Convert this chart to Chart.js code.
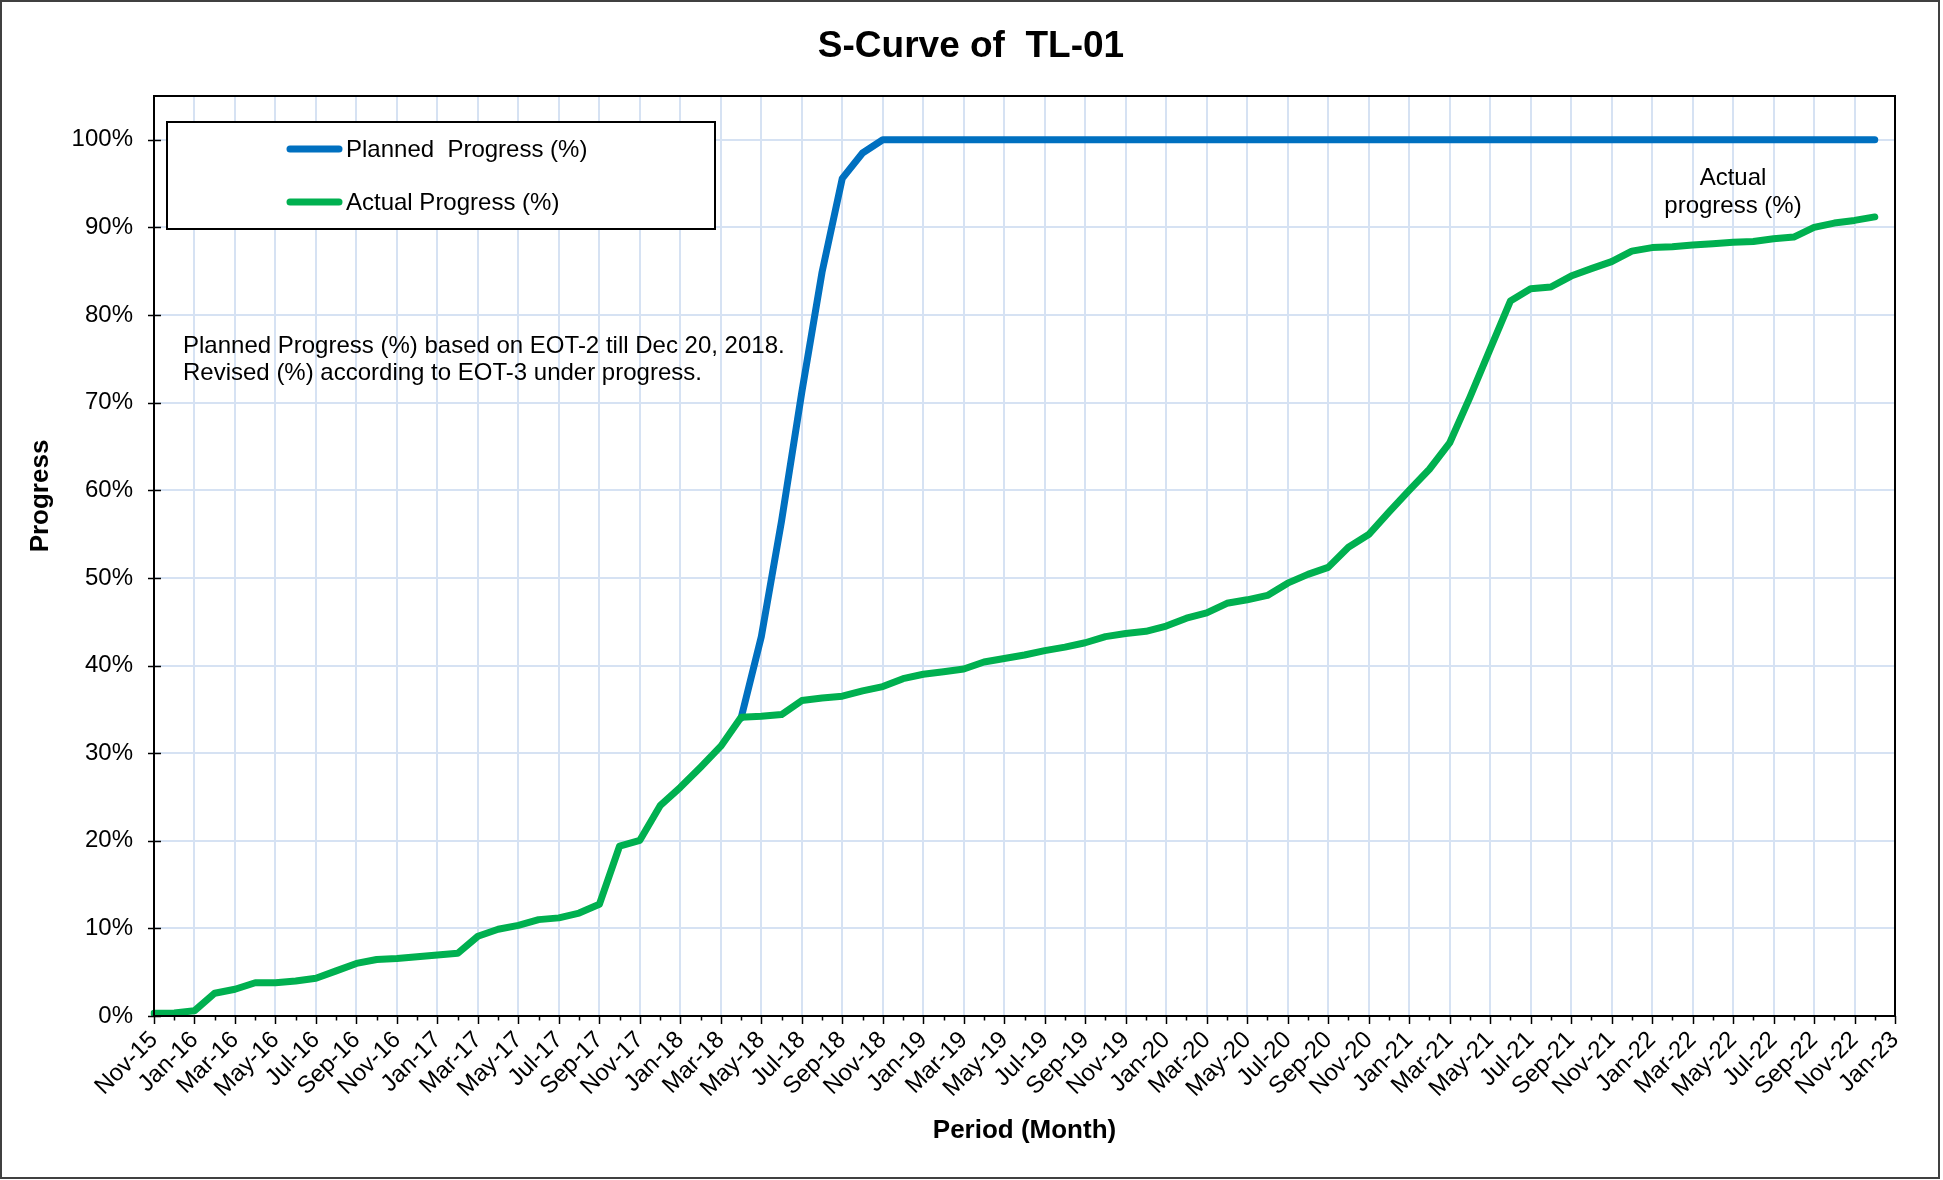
<!DOCTYPE html>
<html>
<head>
<meta charset="utf-8">
<title>S-Curve of TL-01</title>
<script src="https://cdn.jsdelivr.net/npm/chart.js@4.4.1/dist/chart.umd.min.js"></script>
<style>
  html, body { margin: 0; padding: 0; background: #ffffff; }
  canvas { display: block; }
</style>
</head>
<body>
<canvas id="scurve" width="1943" height="1180"></canvas>
<script>
// Monthly periods, Nov-15 through Jan-23
const months = [
  'Nov-15','Dec-15',
  'Jan-16','Feb-16','Mar-16','Apr-16','May-16','Jun-16','Jul-16','Aug-16','Sep-16','Oct-16','Nov-16','Dec-16',
  'Jan-17','Feb-17','Mar-17','Apr-17','May-17','Jun-17','Jul-17','Aug-17','Sep-17','Oct-17','Nov-17','Dec-17',
  'Jan-18','Feb-18','Mar-18','Apr-18','May-18','Jun-18','Jul-18','Aug-18','Sep-18','Oct-18','Nov-18','Dec-18',
  'Jan-19','Feb-19','Mar-19','Apr-19','May-19','Jun-19','Jul-19','Aug-19','Sep-19','Oct-19','Nov-19','Dec-19',
  'Jan-20','Feb-20','Mar-20','Apr-20','May-20','Jun-20','Jul-20','Aug-20','Sep-20','Oct-20','Nov-20','Dec-20',
  'Jan-21','Feb-21','Mar-21','Apr-21','May-21','Jun-21','Jul-21','Aug-21','Sep-21','Oct-21','Nov-21','Dec-21',
  'Jan-22','Feb-22','Mar-22','Apr-22','May-22','Jun-22','Jul-22','Aug-22','Sep-22','Oct-22','Nov-22','Dec-22',
  'Jan-23'
];

// Planned progress (%) per EOT-2; the earlier months run under the actual curve
const plannedProgress = [
  null, null, null, null, null, null, null, null, null, null,
  null, null, null, null, null, null, null, null, null, null,
  null, null, null, null, null, null, null, null, null,
  34.0, 43.3, 56.5, 71.2, 84.9, 95.6, 98.5, 100, 100, 100,
  100, 100, 100, 100, 100, 100, 100, 100, 100, 100,
  100, 100, 100, 100, 100, 100, 100, 100, 100, 100,
  100, 100, 100, 100, 100, 100, 100, 100, 100, 100,
  100, 100, 100, 100, 100, 100, 100, 100, 100, 100,
  100, 100, 100, 100, 100, 100, 100
];

// Actual progress (%) month by month up to Dec-22
const actualProgress = [
  0.3, 0.35, 0.6, 2.6, 3.05, 3.8, 3.8, 4.0, 4.3, 5.15,
  6.0, 6.45, 6.55, 6.75, 6.95, 7.15, 9.1, 9.9, 10.35, 11.0,
  11.2, 11.75, 12.75, 19.4, 20.05, 24.0, 26.1, 28.4, 30.8, 34.1,
  34.2, 34.4, 36.0, 36.3, 36.5, 37.1, 37.6, 38.5, 39.0, 39.3,
  39.6, 40.4, 40.8, 41.2, 41.7, 42.1, 42.6, 43.3, 43.65, 43.9,
  44.5, 45.4, 46.0, 47.1, 47.5, 48.0, 49.4, 50.4, 51.2, 53.5,
  54.95, 57.5, 60.0, 62.4, 65.4, 70.6, 76.1, 81.6, 83.0, 83.2,
  84.45, 85.3, 86.1, 87.3, 87.7, 87.8, 88.0, 88.15, 88.3, 88.4,
  88.7, 88.9, 90.0, 90.5, 90.8, 91.2
];

// Percent ticks on the progress axis
const progressTicks = [0, 10, 20, 30, 40, 50, 60, 70, 80, 90, 100];

const FONT = "'Liberation Sans', Arial, Helvetica, sans-serif";
const GRID = '#d6e2f3';
const BLUE = '#0070c0';
const GREEN = '#00b050';
const LINE_W = 7;

// Title, axis titles, notes, legend box, tick marks and frames
const decorations = {
  id: 'decorations',
  beforeDraw(chart) {
    const c = chart.ctx;
    c.save();
    c.fillStyle = '#ffffff';
    c.fillRect(0, 0, chart.width, chart.height);
    c.restore();
  },
  afterDraw(chart) {
    const c = chart.ctx;
    const area = chart.chartArea;
    const xs = chart.scales.x;
    const ys = chart.scales.y;
    c.save();

    // plot frame
    c.strokeStyle = '#000000';
    c.lineWidth = 2;
    c.strokeRect(area.left, area.top, area.right - area.left, area.bottom - area.top);

    // month tick marks, longer on labelled months
    c.lineWidth = 1.5;
    for (let i = 0; i < months.length; i++) {
      const x = Math.round(xs.getPixelForValue(i)) + 0.5;
      const len = i % 2 === 0 ? 8 : 4.5;
      c.beginPath();
      c.moveTo(x, area.bottom);
      c.lineTo(x, area.bottom + len);
      c.stroke();
    }
    // percent tick marks crossing the axis
    progressTicks.forEach(v => {
      const y = Math.round(ys.getPixelForValue(v)) + 0.5;
      c.beginPath();
      c.moveTo(area.left - 6, y);
      c.lineTo(area.left + 7, y);
      c.stroke();
    });

    // chart title
    c.fillStyle = '#000000';
    c.font = `bold 37px ${FONT}`;
    c.textAlign = 'center';
    c.textBaseline = 'alphabetic';
    c.fillText('S-Curve of  TL-01', 971, 57);

    // axis titles
    c.font = `bold 26px ${FONT}`;
    c.textBaseline = 'middle';
    c.fillText('Period (Month)', (area.left + area.right) / 2, 1131);
    c.save();
    c.translate(41, 496);
    c.rotate(-Math.PI / 2);
    c.fillText('Progress', 0, 0);
    c.restore();

    // notes
    c.font = `24px ${FONT}`;
    c.textAlign = 'left';
    c.fillText('Planned Progress (%) based on EOT-2 till Dec 20, 2018.', 183, 346);
    c.fillText('Revised (%) according to EOT-3 under progress.', 183, 373);
    c.textAlign = 'center';
    c.fillText('Actual', 1733, 178);
    c.fillText('progress (%)', 1733, 206);

    // legend box
    c.fillStyle = '#ffffff';
    c.fillRect(167, 122, 548, 107);
    c.strokeStyle = '#000000';
    c.lineWidth = 2;
    c.strokeRect(167, 122, 548, 107);
    const rows = [149, 202];
    chart.data.datasets.forEach((ds, k) => {
      const y = rows[k];
      c.strokeStyle = ds.borderColor;
      c.lineWidth = LINE_W;
      c.lineCap = 'round';
      c.beginPath();
      c.moveTo(290, y);
      c.lineTo(339, y);
      c.stroke();
      c.fillStyle = '#000000';
      c.font = `24px ${FONT}`;
      c.textAlign = 'left';
      c.textBaseline = 'middle';
      c.fillText(ds.label, 346, y + 1);
    });

    // outer frame
    c.lineCap = 'butt';
    c.strokeStyle = '#404040';
    c.lineWidth = 2;
    c.strokeRect(1, 1, 1938, 1177);
    c.restore();
  }
};

new Chart(document.getElementById('scurve'), {
  type: 'line',
  data: {
    labels: months,
    datasets: [
      {
        label: 'Planned  Progress (%)',
        data: plannedProgress,
        borderColor: BLUE,
        backgroundColor: BLUE,
        borderWidth: LINE_W,
        pointRadius: 0,
        tension: 0,
        borderCapStyle: 'round',
        borderJoinStyle: 'round',
        spanGaps: false,
        order: 1
      },
      {
        label: 'Actual Progress (%)',
        data: actualProgress,
        borderColor: GREEN,
        backgroundColor: GREEN,
        borderWidth: LINE_W,
        pointRadius: 0,
        tension: 0,
        borderCapStyle: 'round',
        borderJoinStyle: 'round',
        order: 0
      }
    ]
  },
  options: {
    responsive: false,
    animation: false,
    devicePixelRatio: 1,
    layout: { padding: { top: 96, right: 48, bottom: 0, left: 0 } },
    plugins: {
      legend: { display: false },
      title: { display: false },
      tooltip: { enabled: false }
    },
    scales: {
      x: {
        type: 'category',
        offset: false,
        afterFit(scale) { scale.height = 164; },
        grid: {
          color: ctx => (ctx.index % 2 === 0 ? GRID : 'rgba(0,0,0,0)'),
          lineWidth: 2,
          drawTicks: false
        },
        border: { display: true, color: '#000000', width: 2 },
        ticks: {
          autoSkip: false,
          minRotation: 45,
          maxRotation: 45,
          padding: 10,
          color: '#000000',
          font: { family: FONT, size: 24 },
          callback: (value, index) => (index % 2 === 0 ? months[index] : '')
        }
      },
      y: {
        type: 'linear',
        min: 0,
        max: 105,
        afterFit(scale) { scale.width = 154; },
        grid: { color: GRID, lineWidth: 2, drawTicks: false },
        border: { display: true, color: '#000000', width: 2 },
        ticks: {
          stepSize: 10,
          includeBounds: false,
          padding: 21,
          color: '#000000',
          font: { family: FONT, size: 24 },
          callback: v => v + '%'
        }
      }
    }
  },
  plugins: [decorations]
});
</script>
</body>
</html>
